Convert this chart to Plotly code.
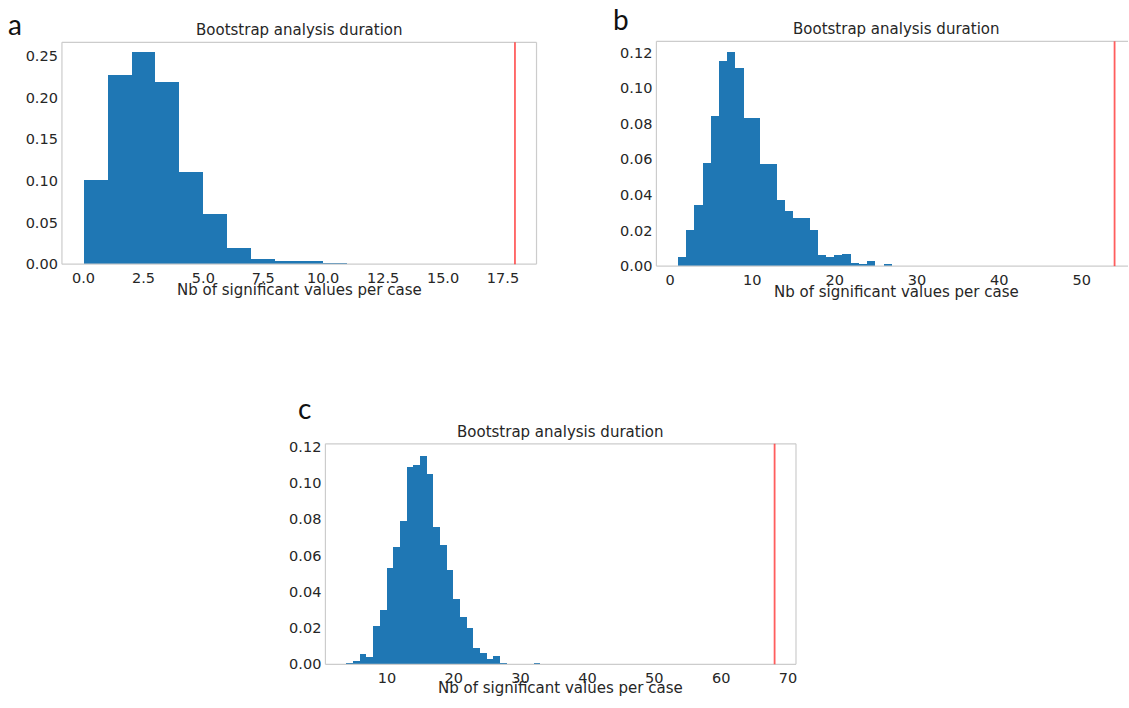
import plotly.graph_objects as go

# ---------------- data ----------------
# panel a: density histogram, bins of width 1 starting at 0
a_bin_start = 0
a_bin_width = 1
a_density = [0.101, 0.227, 0.254, 0.219, 0.110, 0.060, 0.019, 0.006, 0.003, 0.003, 0.001]
a_observed = 18

# panel b: bins of width 1 starting at 1
b_bin_start = 1
b_bin_width = 1
b_density = [0.005, 0.020, 0.034, 0.058, 0.084, 0.115, 0.120, 0.111, 0.083, 0.083,
             0.057, 0.057, 0.037, 0.031, 0.027, 0.027, 0.020, 0.0059, 0.005, 0.0059,
             0.0065, 0.0015, 0.001, 0.0026, 0.0, 0.0008]
b_observed = 54

# panel c: bins of width 1 starting at 4
c_bin_start = 4
c_bin_width = 1
c_density = [0.0009, 0.002, 0.006, 0.004, 0.021, 0.030, 0.053, 0.065, 0.079, 0.1086,
             0.110, 0.115, 0.105, 0.076, 0.066, 0.052, 0.036, 0.026, 0.020, 0.009,
             0.0063, 0.003, 0.005, 0.001, 0.0, 0.0, 0.0, 0.0, 0.0006]
c_observed = 68

title_text = "Bootstrap analysis duration"
xlabel_text = "Nb of significant values per case"
panel_letters = ["a", "b", "c"]

# ---------------- layout helpers ----------------
W, H = 1129, 708
BAR = "#1f77b4"
TXT = "#262626"
SPINE = "#cccccc"
FONT = "DejaVu Sans"

def px_x(p):
    return p / W

def px_y(p):
    return 1 - p / H

fig = go.Figure()

panels = [
    dict(key="", density=a_density, start=a_bin_start, width=a_bin_width, obs=a_observed,
         box=(62, 537, 38, 264), xr=[-0.9, 18.9], yr=[0, 0.2665], dx=2.5, xfmt=".1f", dy=0.05,
         center=299.5, label_y=290, right_spine=True, letter_pos=(15, 19)),
    dict(key="2", density=b_density, start=b_bin_start, width=b_bin_width, obs=b_observed,
         box=(657, 1129, 37, 266), xr=[-1.65, 55.63], yr=[0, 0.1264], dx=10, xfmt="d", dy=0.02,
         center=897, label_y=292, right_spine=False, letter_pos=(622, 14)),
    dict(key="3", density=c_density, start=c_bin_start, width=c_bin_width, obs=c_observed,
         box=(325.7, 796.7, 447, 671.7), xr=[0.8, 71.2], yr=[0, 0.1215], dx=10, xfmt="d", dy=0.02,
         center=561, label_y=696, right_spine=True, letter_pos=(305, 411)),
]

for i, p in enumerate(panels):
    k = p["key"]
    xs = [p["start"] + p["width"] * (j + 0.5) for j in range(len(p["density"]))]
    fig.add_trace(go.Bar(
        x=xs, y=p["density"], width=[p["width"]] * len(xs),
        marker=dict(color=BAR, line=dict(width=0)),
        xaxis="x" + k, yaxis="y" + k, showlegend=False, hoverinfo="x+y",
    ))
    x0, x1, y0, y1 = p["box"]
    fig.layout["xaxis" + k] = dict(
        domain=[px_x(x0), px_x(x1)], range=p["xr"], anchor="y" + k,
        dtick=p["dx"], tick0=0, tickformat=p["xfmt"], showgrid=False, zeroline=False,
        showline=False, ticks="", tickfont=dict(family=FONT, size=14.5, color=TXT),
        ticklabelstandoff=3,
    )
    fig.layout["yaxis" + k] = dict(
        domain=[px_y(y1), px_y(y0)], range=p["yr"], anchor="x" + k,
        dtick=p["dy"], tick0=0, tickformat=".2f", showgrid=False, zeroline=False,
        showline=False, ticks="", tickfont=dict(family=FONT, size=14.5, color=TXT),
        ticklabelstandoff=3,
    )
    xd = "x" + k + " domain"
    yd = "y" + k + " domain"
    # spines
    lines = [(0, 0, 1, 0), (0, 1, 1, 1), (0, 0, 0, 1)]
    if p["right_spine"]:
        lines.append((1, 0, 1, 1))
    for (ax0, ay0, ax1, ay1) in lines:
        fig.add_shape(type="line", xref=xd, yref=yd, x0=ax0, y0=ay0, x1=ax1, y1=ay1,
                      line=dict(color=SPINE, width=1.2), layer="above")
    # observed value line
    fig.add_shape(type="line", xref="x" + k, yref=yd, x0=p["obs"], x1=p["obs"], y0=0, y1=1,
                  line=dict(color="rgba(255,40,40,0.75)", width=1.8), layer="above")
    # title
    fig.add_annotation(text=title_text, xref="paper", yref="paper",
                       x=px_x(p["center"]), y=px_y(y0 - 1), xanchor="center", yanchor="bottom",
                       showarrow=False, font=dict(family=FONT, size=15, color=TXT))
    # x label
    fig.add_annotation(text=xlabel_text, xref="paper", yref="paper",
                       x=px_x(p["center"]), y=px_y(p["label_y"]), xanchor="center", yanchor="middle",
                       showarrow=False, font=dict(family=FONT, size=15, color=TXT))
    # panel letter
    lx, ly = p["letter_pos"]
    fig.add_annotation(text=panel_letters[i], xref="paper", yref="paper",
                       x=px_x(lx), y=px_y(ly), xanchor="center", yanchor="middle",
                       showarrow=False, font=dict(family="Lato", size=28, color="#111111"))

fig.update_layout(
    width=W, height=H, margin=dict(l=0, r=0, t=0, b=0),
    paper_bgcolor="white", plot_bgcolor="white", bargap=0,
)

fig.write_html(
    "out.html",
    config={"displayModeBar": False},
    post_script="document.body.style.margin='0';document.body.style.overflow='hidden';",
)
